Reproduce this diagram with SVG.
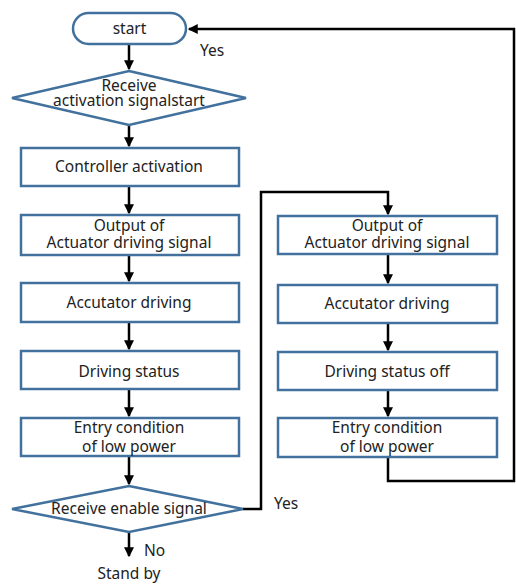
<svg xmlns="http://www.w3.org/2000/svg" width="516" height="584" viewBox="0 0 516 584">
<defs>
<marker id="ah" markerWidth="4" markerHeight="4" refX="3.5" refY="2" orient="auto" markerUnits="strokeWidth">
<path d="M0,0 L4,2 L0,4 Z" fill="#000"/>
</marker>
<style>
.n{fill:#fff;stroke:#41719c;stroke-width:2.5}
.t{font-family:"Noto Sans","Liberation Sans",sans-serif;font-size:15.5px;fill:#222;text-anchor:middle}
.l{font-family:"Noto Sans","Liberation Sans",sans-serif;font-size:15.5px;fill:#222}
.c{fill:none;stroke:#000;stroke-width:2.5}
.a{marker-end:url(#ah)}
</style>
</defs>
<rect width="516" height="584" fill="#fff"/>
<g id="connectors">
<path class="c a" d="M129,44 V69"/>
<path class="c a" d="M129,125 V146"/>
<path class="c a" d="M129,187 V213"/>
<path class="c a" d="M129,256 V281"/>
<path class="c a" d="M129,323 V349"/>
<path class="c a" d="M129,390 V416"/>
<path class="c a" d="M129,457 V484"/>
<path class="c a" d="M129,532 V556"/>
<path class="c a" d="M243,509 H261 V192 H388 V214"/>
<path class="c a" d="M388,255 V283"/>
<path class="c a" d="M388,324 V350"/>
<path class="c a" d="M388,391 V416"/>
<path class="c a" d="M388,458 V481 H514 V29 H189"/>
</g>
<g id="start">
<rect class="n" x="73" y="13" width="113" height="31" rx="15.5"/>
<text class="t" x="129.5" y="34">start</text>
</g>
<g id="receive-activation">
<polygon class="n" points="129,71 246,98 129,125 12,98"/>
<text class="t" x="129" y="91">Receive</text>
<text class="t" x="129" y="106">activation signalstart</text>
</g>
<g id="controller-activation">
<rect class="n" x="21" y="148" width="218" height="38"/>
<text class="t" x="129" y="172">Controller activation</text>
</g>
<g id="output-left">
<rect class="n" x="21" y="215" width="218" height="40"/>
<text class="t" x="129" y="231">Output of</text>
<text class="t" x="129" y="248">Actuator driving signal</text>
</g>
<g id="accutator-left">
<rect class="n" x="21" y="283" width="218" height="39"/>
<text class="t" x="129" y="308">Accutator driving</text>
</g>
<g id="driving-status">
<rect class="n" x="21" y="351" width="218" height="38"/>
<text class="t" x="129" y="377">Driving status</text>
</g>
<g id="entry-left">
<rect class="n" x="21" y="418" width="218" height="38"/>
<text class="t" x="129" y="433">Entry condition</text>
<text class="t" x="129" y="452">of low power</text>
</g>
<g id="receive-enable">
<polygon class="n" points="129,486 243,509 129,532 12,509"/>
<text class="t" x="129" y="514">Receive enable signal</text>
</g>
<g id="output-right">
<rect class="n" x="278" y="216" width="219" height="38"/>
<text class="t" x="387" y="231">Output of</text>
<text class="t" x="387" y="248">Actuator driving signal</text>
</g>
<g id="accutator-right">
<rect class="n" x="278" y="285" width="219" height="38"/>
<text class="t" x="387" y="309">Accutator driving</text>
</g>
<g id="driving-status-off">
<rect class="n" x="278" y="352" width="219" height="38"/>
<text class="t" x="387" y="377">Driving status off</text>
</g>
<g id="entry-right">
<rect class="n" x="278" y="418" width="219" height="39"/>
<text class="t" x="387" y="433">Entry condition</text>
<text class="t" x="387" y="452">of low power</text>
</g>
<g id="labels">
<text class="l" x="200" y="56">Yes</text>
<text class="l" x="274" y="509">Yes</text>
<text class="l" x="144" y="556">No</text>
<text class="t" x="129" y="579">Stand by</text>
</g>
</svg>
